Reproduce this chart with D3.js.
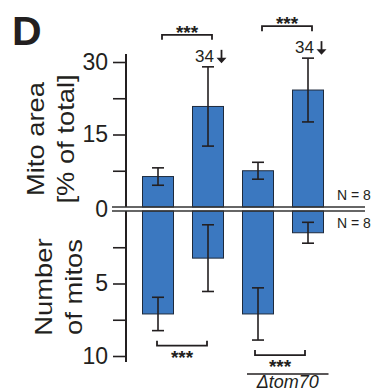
<!DOCTYPE html>
<html>
<head>
<meta charset="utf-8">
<script src="https://cdn.jsdelivr.net/npm/d3@7"></script>
<style>
  body { margin: 0; background: #fff; }
  text { font-family: "Liberation Sans", Arial, sans-serif; fill: #231f20; }
</style>
</head>
<body>
<script>
// conditions (left to right), the last two are the tom70 deletion strain
const groups = ["WT ctrl", "WT treated", "tom70 ctrl", "tom70 treated"];

// upper panel: mito area [% of total]
const areaMean = [6.3, 20.8, 7.5, 24.2];
const areaErr = [1.8, 8.2, 1.75, 6.6];
const areaTop = ["", "34", "", "34"]; // value notes above the bars
const areaTicks = [7.5, 15, 22.5, 30];
const areaLabels = [15, 30];

// lower panel: number of mitos
const countMean = [7.1, 3.25, 7.1, 1.5];
const countErr = [1.15, 2.3, 1.8, 0.72];
const countTicks = [2.5, 5, 7.5, 10];
const countLabels = [5, 10];

const sigPairs = [[0, 1], [2, 3]];
const sigText = "***";
const nText = "N = 8";

const BAR_FILL = "#3b78c0";
const BAR_STROKE = "#1e2a3c";
const INK = "#231f20";

const width = 376, height = 391;
const svg = d3.select("body").append("svg")
  .attr("width", width)
  .attr("height", height);

const x = d3.scaleBand()
  .domain(groups)
  .range([133, 333])
  .paddingInner(0.38)
  .paddingOuter(0.19);
const cx = (i) => x(groups[i]) + x.bandwidth() / 2;

const yTop = d3.scaleLinear().domain([0, 30]).range([207, 62]);
const yBot = d3.scaleLinear().domain([0, 10]).range([211, 356]);

const axisX = 126;

// panel letter
svg.append("text")
  .attr("x", 12).attr("y", 45)
  .attr("font-size", 41).attr("font-weight", "bold")
  .text("D");

// y titles (text is a bit wider than normal in the figure)
function yTitle(lines, cy) {
  lines.forEach(([txt, bx]) => {
    svg.append("text")
      .attr("transform", `translate(${bx},${cy}) rotate(-90) scale(1.19,1)`)
      .attr("text-anchor", "middle")
      .attr("font-size", 23)
      .text(txt);
  });
}
yTitle([["Mito area", 44], ["[% of total]", 74]], 139);
yTitle([["Number", 52], ["of mitos", 82]], 287);

// axes
const tickFmt = (labels) => (d) => labels.includes(d) ? d : "";
const gTop = svg.append("g")
  .attr("transform", `translate(${axisX},0)`)
  .call(d3.axisLeft(yTop).tickValues(areaTicks).tickFormat(tickFmt(areaLabels))
    .tickSize(13).tickPadding(5));
const gBot = svg.append("g")
  .attr("transform", `translate(${axisX},0)`)
  .call(d3.axisLeft(yBot).tickValues(countTicks).tickFormat(tickFmt(countLabels))
    .tickSize(13).tickPadding(5));
[gTop, gBot].forEach((g) => {
  g.select(".domain").remove();
  g.selectAll(".tick line").attr("stroke", INK).attr("stroke-width", 1.6);
  g.selectAll(".tick text")
    .attr("font-size", 23)
    .attr("font-family", "Liberation Sans, Arial, sans-serif")
    .attr("fill", INK);
});
svg.append("line")
  .attr("x1", axisX).attr("x2", axisX)
  .attr("y1", yTop(0)).attr("y2", yTop(30) - 8)
  .attr("stroke", INK).attr("stroke-width", 2);
svg.append("line")
  .attr("x1", axisX).attr("x2", axisX)
  .attr("y1", yBot(0)).attr("y2", yBot(10) + 6)
  .attr("stroke", INK).attr("stroke-width", 2);

// bars, upper panel
svg.append("g").selectAll("rect")
  .data(areaMean)
  .join("rect")
  .attr("x", (d, i) => x(groups[i]))
  .attr("width", x.bandwidth())
  .attr("y", (d) => yTop(d))
  .attr("height", (d) => yTop(0) - yTop(d))
  .attr("fill", BAR_FILL)
  .attr("stroke", BAR_STROKE)
  .attr("stroke-width", 1);

// bars, lower panel
svg.append("g").selectAll("rect")
  .data(countMean)
  .join("rect")
  .attr("x", (d, i) => x(groups[i]))
  .attr("width", x.bandwidth())
  .attr("y", yBot(0))
  .attr("height", (d) => yBot(d) - yBot(0))
  .attr("fill", BAR_FILL)
  .attr("stroke", BAR_STROKE)
  .attr("stroke-width", 1);

// error bars
function errBars(means, errs, y) {
  const g = svg.append("g").attr("stroke", INK).attr("stroke-width", 1.6);
  means.forEach((m, i) => {
    const c = cx(i), lo = y(m - errs[i]), hi = y(m + errs[i]);
    g.append("line").attr("x1", c).attr("x2", c).attr("y1", lo).attr("y2", hi);
    g.append("line").attr("x1", c - 6).attr("x2", c + 6).attr("y1", lo).attr("y2", lo);
    g.append("line").attr("x1", c - 6).attr("x2", c + 6).attr("y1", hi).attr("y2", hi);
  });
}
errBars(areaMean, areaErr, yTop);
errBars(countMean, countErr, yBot);

// double zero line
[yTop(0), yBot(0)].forEach((yy) => {
  svg.append("line")
    .attr("x1", 112).attr("x2", 365)
    .attr("y1", yy).attr("y2", yy)
    .attr("stroke", "#333").attr("stroke-width", 1.5);
});
svg.append("text")
  .attr("x", 108).attr("y", (yTop(0) + yBot(0)) / 2 + 8)
  .attr("text-anchor", "end").attr("font-size", 23)
  .text("0");

svg.append("text").attr("x", 337).attr("y", yTop(0) - 7)
  .attr("font-size", 14).text(nText);
svg.append("text").attr("x", 337).attr("y", yBot(0) + 17)
  .attr("font-size", 14).text(nText);

// "34 ↓" notes
areaTop.forEach((t, i) => {
  if (!t) return;
  const base = yTop(areaMean[i] + areaErr[i]) - 5;
  svg.append("text")
    .attr("x", cx(i) - 13).attr("y", base)
    .attr("font-size", 17).text(t);
  const ax = cx(i) + 13.5;
  svg.append("line")
    .attr("x1", ax).attr("x2", ax)
    .attr("y1", base - 12).attr("y2", base - 3)
    .attr("stroke", INK).attr("stroke-width", 1.8);
  svg.append("path")
    .attr("d", `M${ax - 5},${base - 4}L${ax + 5},${base - 4}L${ax},${base + 1.5}Z`)
    .attr("fill", INK);
});

// significance brackets, upper panel
sigPairs.forEach(([a, b]) => {
  const top = Math.min(yTop(areaMean[a] + areaErr[a]), yTop(areaMean[b] + areaErr[b]));
  const by = top - 32;
  const x1 = cx(a) + 4, x2 = cx(b) + 4;
  svg.append("path")
    .attr("d", `M${x1},${by + 5}V${by}H${x2}V${by + 5}`)
    .attr("fill", "none").attr("stroke", INK).attr("stroke-width", 1.8);
  svg.append("text")
    .attr("x", (x1 + x2) / 2).attr("y", by + 4)
    .attr("text-anchor", "middle").attr("font-size", 19).attr("font-weight", "bold")
    .text(sigText);
});

// significance brackets, lower panel
sigPairs.forEach(([a, b], k) => {
  const low = Math.max(yBot(countMean[a] + countErr[a]), yBot(countMean[b] + countErr[b]));
  const by = low + 15;
  const shift = k === 0 ? -1 : -3;
  const x1 = cx(a) + shift, x2 = cx(b) + shift;
  svg.append("path")
    .attr("d", `M${x1},${by - 5}V${by}H${x2}V${by - 5}`)
    .attr("fill", "none").attr("stroke", INK).attr("stroke-width", 1.8);
  svg.append("text")
    .attr("x", (x1 + x2) / 2).attr("y", by + 18)
    .attr("text-anchor", "middle").attr("font-size", 19).attr("font-weight", "bold")
    .text(sigText);
});

// strain label under the last two bars
const sx1 = x(groups[2]) + 4.5, sx2 = x(groups[3]) + x.bandwidth() + 5;
svg.append("line")
  .attr("x1", sx1).attr("x2", sx2)
  .attr("y1", 374).attr("y2", 374)
  .attr("stroke", INK).attr("stroke-width", 1.6);
svg.append("text")
  .attr("x", (sx1 + sx2) / 2).attr("y", 388)
  .attr("text-anchor", "middle").attr("font-size", 18)
  .attr("font-style", "italic")
  .text("\u0394tom70");
</script>
</body>
</html>
